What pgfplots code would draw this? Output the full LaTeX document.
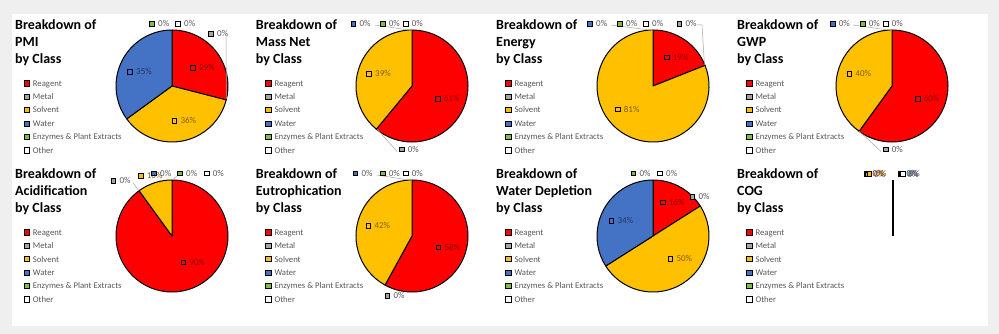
\documentclass[border=0pt]{standalone}
\usepackage{fontspec}
\setmainfont{Carlito}
\usepackage{pgfplots}
\pgfplotsset{compat=1.18}
\usepgfplotslibrary{polar}

\definecolor{cRea}{HTML}{FF0000}
\definecolor{cMet}{HTML}{A5A5A5}
\definecolor{cSol}{HTML}{FFC000}
\definecolor{cWat}{HTML}{4472C4}
\definecolor{cEnz}{HTML}{7CC043}
\definecolor{cOth}{HTML}{FFFFFF}
\definecolor{tRea}{HTML}{8B0000}
\definecolor{tSol}{HTML}{7F6000}
\definecolor{tWat}{HTML}{1F3864}
\definecolor{tGry}{HTML}{595959}
\definecolor{bgGray}{HTML}{EFEFEF}
\definecolor{lead}{HTML}{A6A6A6}

\pgfplotsset{
  pie/.style={hide axis, scale only axis, width=112pt, height=112pt,
    anchor=center, xmin=0, xmax=360, ymin=0, ymax=1, clip=false,
    x filter/.expression={90-3.6*x}},
}

% one slice between cumulative shares #2 and #3 (percent), clockwise from 12 o'clock
\newcommand\slice[3]{%
  \addplot[fill=#1, draw=black, line width=1pt, line join=round]
    coordinates {(#3,1) (0,0) (#2,1)}
    arc[start angle={90-3.6*#2}, end angle={90-3.6*#3}, radius=56pt] -- cycle;}

% data label: x, y (pixels from top left), key colour, text colour, text
\newcommand\dlab[5]{%
  \filldraw[fill=#3, draw=black, line width=0.6pt]
    ({#1-2.3},{-#2-2.3}) rectangle ({#1+2.3},{-#2+2.3});
  \node[anchor=base west, inner sep=0pt, text=#4, font=\fontsize{9}{10}\selectfont]
    at ({#1+6},{-#2-2.9}) {#5};}

\newcommand\classlegend[2]{%
  \foreach \c/\t [count=\i from 0] in {cRea/Reagent, cMet/Metal, cSol/Solvent,
      cWat/Water, cEnz/Enzymes \& Plant Extracts, cOth/Other}{
    \filldraw[fill=\c, draw=black, line width=0.6pt]
      ({#1-2.6},{-#2-13.4*\i-2.6}) rectangle ({#1+2.6},{-#2-13.4*\i+2.6});
    \node[anchor=base west, inner sep=0pt, text=tGry, font=\fontsize{8.7}{10}\selectfont]
      at ({#1+6},{-#2-13.4*\i-2.9}) {\t};
  }}

\newcommand\ptitle[3]{%
  \node[anchor=base west, inner sep=0pt, font=\bfseries\fontsize{14}{17}\selectfont] at (#1,-#2) {Breakdown of};
  \node[anchor=base west, inner sep=0pt, font=\bfseries\fontsize{14}{17}\selectfont] at (#1,{-#2-17}) {#3};
  \node[anchor=base west, inner sep=0pt, font=\bfseries\fontsize{14}{17}\selectfont] at (#1,{-#2-34}) {by Class};}

\begin{document}
\begin{tikzpicture}[x=1pt,y=1pt]
\fill[bgGray] (0,0) rectangle (999,-334);
\fill[white] (12,-14) rectangle (988,-326);

% ---- PMI
\ptitle{15}{29.5}{PMI}
\classlegend{26.7}{83.3}
\begin{polaraxis}[pie, at={(172pt,-86pt)}]
  \slice{cRea}{0}{29}
  \slice{cSol}{29}{65}
  \slice{cWat}{65}{100}
\end{polaraxis}
\draw[lead, line width=0.5pt] (226,-37) -- (226.5,-99);
\dlab{193}{68}{cRea}{tRea}{29\%}
\dlab{211}{34}{cMet}{tGry}{0\%}
\dlab{174.3}{120.7}{cSol}{tSol}{36\%}
\dlab{130}{71.7}{cWat}{tWat}{35\%}
\dlab{152}{24}{cEnz}{tGry}{0\%}
\dlab{178}{24}{cOth}{tGry}{0\%}

% ---- Mass Net
\ptitle{255.7}{29.5}{Mass Net}
\classlegend{268.3}{83.3}
\begin{polaraxis}[pie, at={(412pt,-86pt)}]
  \slice{cRea}{0}{61}
  \slice{cSol}{61}{100}
\end{polaraxis}
\draw[lead, line width=0.5pt] (375,-25) -- (412,-30.5);
\draw[lead, line width=0.5pt] (377,-129) -- (397,-151.5);
\dlab{437.7}{99}{cRea}{tRea}{61\%}
\dlab{401.7}{149.3}{cMet}{tGry}{0\%}
\dlab{369}{74}{cSol}{tSol}{39\%}
\dlab{353.3}{24}{cWat}{tGry}{0\%}
\dlab{382.7}{24}{cEnz}{tGry}{0\%}
\dlab{405.7}{24}{cOth}{tGry}{0\%}

% ---- Energy
\ptitle{496}{29.5}{Energy}
\classlegend{508.3}{83.3}
\begin{polaraxis}[pie, at={(653pt,-86pt)}]
  \slice{cRea}{0}{19}
  \slice{cSol}{19}{100}
\end{polaraxis}
\draw[lead, line width=0.5pt] (611,-25) -- (653,-30.5);
\draw[lead, line width=0.5pt] (697,-25) -- (702,-25) -- (704.5,-65);
\dlab{666.7}{57.3}{cRea}{tRea}{19\%}
\dlab{679.3}{24}{cMet}{tGry}{0\%}
\dlab{617.7}{109.3}{cSol}{tSol}{81\%}
\dlab{590}{24}{cWat}{tGry}{0\%}
\dlab{620}{24}{cEnz}{tGry}{0\%}
\dlab{646}{24}{cOth}{tGry}{0\%}

% ---- GWP
\ptitle{737}{29.5}{GWP}
\classlegend{749.3}{83.3}
\begin{polaraxis}[pie, at={(892pt,-86pt)}]
  \slice{cRea}{0}{60}
  \slice{cSol}{60}{100}
\end{polaraxis}
\draw[lead, line width=0.5pt] (853,-25) -- (892,-30.5);
\draw[lead, line width=0.5pt] (859,-131) -- (881,-151.5);
\dlab{917.7}{99}{cRea}{tRea}{60\%}
\dlab{885.7}{149.3}{cMet}{tGry}{0\%}
\dlab{849.3}{74}{cSol}{tSol}{40\%}
\dlab{832.7}{24}{cWat}{tGry}{0\%}
\dlab{862.7}{24}{cEnz}{tGry}{0\%}
\dlab{885.7}{24}{cOth}{tGry}{0\%}

% ---- Acidification
\ptitle{15}{178.7}{Acidification}
\classlegend{26.7}{232.3}
\begin{polaraxis}[pie, at={(172pt,-236pt)}]
  \slice{cRea}{0}{90}
  \slice{cSol}{90}{100}
\end{polaraxis}
\draw[lead, line width=0.5pt] (133,-182.5) -- (139,-191);
\draw[lead, line width=0.5pt] (177,-176) -- (172,-180);
\dlab{183.3}{262.3}{cRea}{tRea}{90\%}
\dlab{113.3}{181}{cMet}{tGry}{0\%}
\dlab{140.7}{175.7}{cSol}{tSol}{10\%}
\dlab{154}{173.3}{cWat}{tGry}{0\%}
\dlab{180}{173.3}{cEnz}{tGry}{0\%}
\dlab{206.7}{173.3}{cOth}{tGry}{0\%}

% ---- Eutrophication
\ptitle{255.7}{178.7}{Eutrophication}
\classlegend{268.3}{232.3}
\begin{polaraxis}[pie, at={(412pt,-236pt)}]
  \slice{cRea}{0}{58}
  \slice{cSol}{58}{100}
\end{polaraxis}
\draw[lead, line width=0.5pt] (376.7,-175) -- (412,-180.5);
\dlab{438.3}{247.3}{cRea}{tRea}{58\%}
\dlab{387.3}{295.7}{cMet}{tGry}{0\%}
\dlab{368.3}{226}{cSol}{tSol}{42\%}
\dlab{355.3}{173.3}{cWat}{tGry}{0\%}
\dlab{382.7}{173.3}{cEnz}{tGry}{0\%}
\dlab{405.7}{173.3}{cOth}{tGry}{0\%}

% ---- Water Depletion
\ptitle{496}{178.7}{Water Depletion}
\classlegend{508.3}{232.3}
\begin{polaraxis}[pie, at={(653pt,-236pt)}]
  \slice{cRea}{0}{16}
  \slice{cSol}{16}{66}
  \slice{cWat}{66}{100}
\end{polaraxis}
\dlab{662.7}{202.3}{cRea}{tRea}{16\%}
\dlab{692.3}{196.7}{cMet}{tGry}{0\%}
\dlab{670.3}{259}{cSol}{tSol}{50\%}
\dlab{611.3}{221}{cWat}{tWat}{34\%}
\dlab{633.3}{173.3}{cEnz}{tGry}{0\%}
\dlab{660}{173.3}{cOth}{tGry}{0\%}

% ---- COG (all classes zero)
\ptitle{737}{178.7}{COG}
\classlegend{749.3}{232.3}
\begin{polaraxis}[pie, at={(893pt,-236pt)}]
  \addplot[black, line width=1.3pt] coordinates {(0,0) (0,1)};
\end{polaraxis}
\dlab{866.5}{174}{cRea}{tRea}{0\%}
\dlab{868}{174.3}{cMet}{tGry}{0\%}
\dlab{869.3}{174}{cSol}{tSol}{0\%}
\dlab{900.3}{174}{cWat}{tWat}{0\%}
\dlab{901.5}{174.3}{cEnz}{tGry}{0\%}
\dlab{902.7}{174}{cOth}{tGry}{0\%}

\pgfresetboundingbox
\path (0,0) rectangle (999,-334);
\end{tikzpicture}
\end{document}
